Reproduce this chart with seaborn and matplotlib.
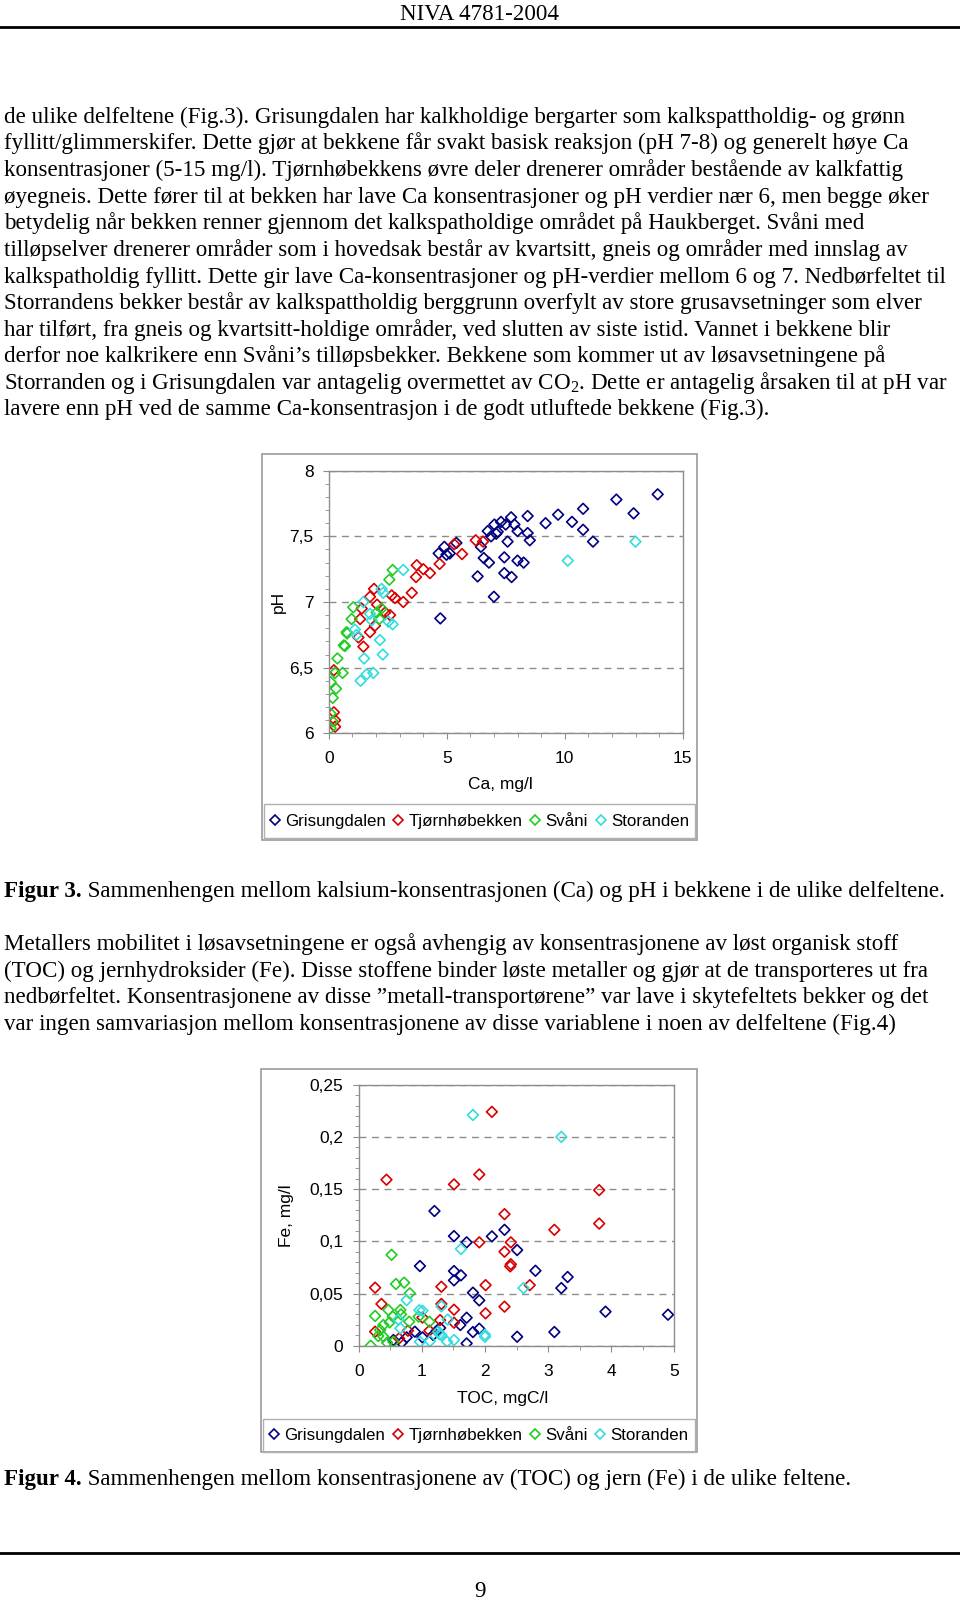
import matplotlib
matplotlib.use("Agg")
import matplotlib.pyplot as plt
from matplotlib.lines import Line2D
from matplotlib.patches import Rectangle
from matplotlib.ticker import FuncFormatter
import numpy as np
import pandas as pd
import seaborn as sns

sites = ['Grisungdalen', 'Tjørnhøbekken', 'Svåni', 'Storanden']
colors = ['#000080', '#D80000', '#22CC22', '#33DDDD']

# Figur 3: Ca (mg/l) mot pH
ca_gris = [13.94, 12.19, 12.92, 10.78, 9.72, 10.31, 9.19, 8.43, 10.78, 11.2, 7.73, 7.30, 7.02, 7.5,
           7.87, 6.74, 7.16, 7.1, 6.88, 8.0, 8.43, 8.52, 7.58, 6.45, 6.57, 6.79, 7.44, 8.0, 8.26,
           7.44, 7.75, 6.31, 7.0, 4.73, 4.66, 4.9, 4.99, 5.13, 5.41]
ph_gris = [7.82, 7.78, 7.675, 7.71, 7.665, 7.61, 7.60, 7.655, 7.55, 7.46, 7.645, 7.61, 7.59, 7.59,
           7.59, 7.54, 7.535, 7.52, 7.50, 7.54, 7.525, 7.47, 7.46, 7.42, 7.335, 7.30, 7.34, 7.315, 7.30,
           7.22, 7.19, 7.195, 7.04, 6.875, 7.37, 7.42, 7.36, 7.37, 7.45]
ca_tjorn = [5.32, 6.23, 6.54, 5.65, 4.7, 3.73, 4.01, 4.29, 3.70, 3.52, 3.16, 2.81, 2.67, 1.92, 1.75,
            1.40, 2.60, 2.39, 1.33, 1.96, 1.75, 1.26, 1.47, 0.22, 0.22, 0.27, 0.27, 2.05]
ph_tjorn = [7.44, 7.47, 7.46, 7.365, 7.29, 7.28, 7.25, 7.22, 7.19, 7.07, 7.00, 7.03, 7.05, 7.10, 7.04,
            6.95, 6.90, 6.92, 6.87, 6.82, 6.77, 6.73, 6.66, 6.48, 6.16, 6.10, 6.05, 6.98]
ca_svani = [2.71, 2.57, 1.04, 0.97, 0.76, 0.69, 0.37, 0.27, 0.59, 0.08, 0.31, 0.17, 0.08, 0.17, 0.08,
            2.24, 2.03, 2.14, 0.64, 0.78]
ph_svani = [7.244, 7.17, 6.96, 6.87, 6.77, 6.665, 6.57, 6.46, 6.46, 6.39, 6.34, 6.27, 6.15, 6.09, 6.04,
            6.95, 6.92, 6.87, 6.67, 6.76]
ca_stor = [13.0, 10.13, 3.16, 2.24, 2.31, 1.47, 1.75, 1.82, 2.53, 2.71, 1.11, 1.18, 2.17, 2.29, 1.50,
           1.89, 1.61, 1.35]
ph_stor = [7.46, 7.315, 7.244, 7.10, 7.07, 7.00, 6.91, 6.86, 6.85, 6.83, 6.79, 6.75, 6.71, 6.60, 6.57,
           6.46, 6.45, 6.40]

# Figur 4: TOC (mgC/l) mot Fe (mg/l)
toc_gris = [4.90, 3.91, 3.10, 2.51, 3.21, 3.31, 2.80, 2.51, 2.31, 2.11, 1.71, 1.51, 1.20, 0.97, 1.51,
            1.62, 1.51, 1.81, 1.91, 1.71, 1.61, 1.81, 1.91, 1.71, 0.55, 0.68, 0.89, 1.01, 1.18, 1.24,
            1.29, 0.76]
fe_gris = [0.0297, 0.0326, 0.0131, 0.0086, 0.0552, 0.0658, 0.0718, 0.0916, 0.111, 0.1047, 0.099, 0.105,
           0.129, 0.0763, 0.0715, 0.0674, 0.0626, 0.0508, 0.0434, 0.0268, 0.0198, 0.0131, 0.0163,
           0.0022, 0.0054, 0.0029, 0.0134, 0.0080, 0.0103, 0.0144, 0.017, 0.008]
toc_tjorn = [2.11, 1.91, 1.51, 0.44, 3.81, 3.81, 3.10, 2.31, 2.31, 2.41, 2.41, 2.40, 1.91, 2.71, 2.31,
             2.01, 2.01, 1.31, 1.31, 1.51, 1.51, 1.29, 1.01, 0.26, 0.36, 0.26, 0.64, 0.78, 1.12]
fe_tjorn = [0.224, 0.164, 0.1545, 0.159, 0.149, 0.117, 0.111, 0.126, 0.090, 0.099, 0.078, 0.076, 0.099,
            0.058, 0.0374, 0.058, 0.031, 0.0565, 0.040, 0.0345, 0.022, 0.0245, 0.027, 0.0556, 0.040,
            0.0134, 0.0070, 0.0144, 0.0144]
toc_svani = [0.52, 0.59, 0.72, 0.81, 0.47, 0.66, 0.54, 0.26, 0.39, 0.34, 0.39, 0.31, 0.19, 0.45, 0.55,
             0.80, 0.95, 1.12, 0.49, 0.67]
fe_svani = [0.087, 0.0591, 0.0604, 0.0502, 0.0342, 0.0342, 0.028, 0.0285, 0.0198, 0.0150, 0.0087,
            0.0093, 0.0, 0.0029, 0.0038, 0.0230, 0.0278, 0.0230, 0.0224, 0.030]
toc_stor = [1.81, 3.21, 1.62, 2.61, 2.0, 2.0, 1.31, 1.41, 1.51, 1.40, 1.31, 1.26, 1.01, 0.76, 0.63,
            0.66, 0.97, 1.13, 1.28, 0.96]
fe_stor = [0.221, 0.200, 0.0926, 0.0552, 0.0105, 0.0086, 0.0377, 0.025, 0.0054, 0.0039, 0.0102, 0.0134,
           0.0335, 0.0437, 0.025, 0.0166, 0.0038, 0.0044, 0.011, 0.034]

para1 = [
    "de ulike delfeltene (Fig.3). Grisungdalen har kalkholdige bergarter som kalkspattholdig- og grønn",
    "fyllitt/glimmerskifer. Dette gjør at bekkene får svakt basisk reaksjon (pH 7-8) og generelt høye Ca",
    "konsentrasjoner (5-15 mg/l). Tjørnhøbekkens øvre deler drenerer områder bestående av kalkfattig",
    "øyegneis. Dette fører til at bekken har lave Ca konsentrasjoner og pH verdier nær 6, men begge øker",
    "betydelig når bekken renner gjennom det kalkspatholdige området på Haukberget. Svåni med",
    "tilløpselver drenerer områder som i hovedsak består av kvartsitt, gneis og områder med innslag av",
    "kalkspatholdig fyllitt. Dette gir lave Ca-konsentrasjoner og pH-verdier mellom 6 og 7. Nedbørfeltet til",
    "Storrandens bekker består av kalkspattholdig berggrunn overfylt av store grusavsetninger som elver",
    "har tilført, fra gneis og kvartsitt-holdige områder, ved slutten av siste istid. Vannet i bekkene blir",
    "derfor noe kalkrikere enn Svåni’s tilløpsbekker. Bekkene som kommer ut av løsavsetningene på",
    "Storranden og i Grisungdalen var antagelig overmettet av CO$_2$. Dette er antagelig årsaken til at pH var",
    "lavere enn pH ved de samme Ca-konsentrasjon i de godt utluftede bekkene (Fig.3).",
]
para2 = [
    "Metallers mobilitet i løsavsetningene er også avhengig av konsentrasjonene av løst organisk stoff",
    "(TOC) og jernhydroksider (Fe). Disse stoffene binder løste metaller og gjør at de transporteres ut fra",
    "nedbørfeltet. Konsentrasjonene av disse ”metall-transportørene” var lave i skytefeltets bekker og det",
    "var ingen samvariasjon mellom konsentrasjonene av disse variablene i noen av delfeltene (Fig.4)",
]
cap3 = ("Figur 3.", " Sammenhengen mellom kalsium-konsentrasjonen (Ca) og pH i bekkene i de ulike delfeltene.")
cap4 = ("Figur 4.", " Sammenhengen mellom konsentrasjonene av (TOC) og jern (Fe) i de ulike feltene.")

plt.rcParams['font.family'] = ['Liberation Sans', 'DejaVu Sans']
plt.rcParams['mathtext.fontset'] = 'custom'
plt.rcParams['mathtext.rm'] = 'Liberation Serif'

W, H = 960, 1601
fig = plt.figure(figsize=(W / 100, H / 100), dpi=100)
SERIF = ['Liberation Serif', 'DejaVu Serif']
FS = 16.6
LIFT = 7.5  # baseline sits this many px below the visual middle of a line


def fx(x):
    return x / W


def fy(y):
    return 1 - y / H


def hline(y, lw=2):
    fig.add_artist(Line2D([0, 1], [fy(y), fy(y)], transform=fig.transFigure, color='black', lw=lw))


def comma(v, pos):
    return f"{v:g}".replace('.', ',')


def body(x, y, s, **kw):
    return fig.text(fx(x), fy(y + LIFT), s, family=SERIF, fontsize=FS, va='baseline', **kw)


def make_chart(box, plot, xs, ys, xmax, xmajor, xminor, ylim, ymajor, yminor, xlabel, ylabel,
               xlab_pos, ylab_x, legend_y):
    # ramme rundt diagrammet
    x0, y0, x1, y1 = box
    fig.add_artist(Rectangle((fx(x0), fy(y1)), fx(x1) - fx(x0), fy(y0) - fy(y1),
                             transform=fig.transFigure, fill=False, ec='#9a9a9a', lw=1.2))
    l, t, r, b = plot
    ax = fig.add_axes([fx(l), fy(b), fx(r) - fx(l), fy(t) - fy(b)])
    rows = []
    for s, x, y in zip(sites, xs, ys):
        rows.append(pd.DataFrame({'site': s, 'x': x, 'y': y}))
    df = pd.concat(rows, ignore_index=True)
    for s, c in zip(sites, colors):
        sns.scatterplot(data=df[df['site'] == s], x='x', y='y', ax=ax, marker='D', s=30,
                        color=c, facecolor='none', edgecolor=c, linewidth=1.2, legend=False)
    ax.set_xlim(0, xmax)
    ax.set_ylim(*ylim)
    ax.set_xticks(np.arange(0, xmax + 1e-9, xmajor))
    ax.set_xticks(np.arange(0, xmax + 1e-9, xminor), minor=True)
    ax.set_yticks(np.arange(ylim[0], ylim[1] + 1e-9, ymajor))
    ax.set_yticks(np.arange(ylim[0], ylim[1] + 1e-9, yminor), minor=True)
    ax.yaxis.set_major_formatter(FuncFormatter(comma))
    ax.xaxis.set_major_formatter(FuncFormatter(comma))
    ax.yaxis.grid(True, which='major', ls=(0, (5, 4)), color='#8c8c8c', lw=1.0)
    ax.set_axisbelow(True)
    for sp in ax.spines.values():
        sp.set_color('#8c8c8c')
        sp.set_linewidth(1.0)
    ax.tick_params(which='both', direction='out', color='#8c8c8c', labelsize=12.5)
    ax.tick_params(which='major', length=4)
    ax.tick_params(which='minor', length=3)
    ax.tick_params(axis='y', pad=7)
    ax.tick_params(axis='x', pad=9)
    ax.set_xlabel(xlabel, fontsize=12.5)
    ax.set_ylabel(ylabel, fontsize=12.5)
    ax.xaxis.set_label_coords(*xlab_pos)
    ax.yaxis.set_label_coords(ylab_x, 0.5)
    # forklaring
    fig.add_artist(Rectangle((fx(x0 + 2), fy(legend_y[1])), fx(x1 - 2) - fx(x0 + 2),
                             fy(legend_y[0]) - fy(legend_y[1]),
                             transform=fig.transFigure, fill=False, ec='#b0b0b0', lw=1.0))
    handles = [Line2D([], [], ls='', marker='D', ms=5, mfc='none', mec=c, mew=1.2, label=s)
               for s, c in zip(sites, colors)]
    fig.legend(handles=handles, loc='center', ncol=4, frameon=False, fontsize=12.2,
               bbox_to_anchor=(fx((x0 + x1) / 2 - 1), fy(sum(legend_y) / 2)),
               handlelength=0.8, handletextpad=0.2, columnspacing=0.35, borderpad=0)
    return ax


# topptekst
fig.text(0.5, fy(13 + LIFT), "NIVA 4781-2004", family=SERIF, fontsize=FS, ha='center', va='baseline')
hline(27)

for i, line in enumerate(para1):
    body(4, 115.4 + i * 26.6, line)

make_chart((262, 454, 697, 840), (328.7, 470.7, 682.7, 733.3),
           [ca_gris, ca_tjorn, ca_svani, ca_stor], [ph_gris, ph_tjorn, ph_svani, ph_stor],
           15, 5, 1, (6, 8), 0.5, 0.1, "Ca, mg/l", "pH", (0.484, -0.166), -0.121, (804, 838))

renderer = fig.canvas.get_renderer()


def caption(y, parts):
    t = body(4, y, parts[0], weight='bold')
    bb = t.get_window_extent(renderer)
    fig.text(bb.x1 / W, fy(y + LIFT), parts[1], family=SERIF, fontsize=FS, va='baseline')


caption(889.6, cap3)

for i, line in enumerate(para2):
    body(4, 942.7 + i * 26.5, line)

make_chart((261, 1069, 697, 1452), (358.7, 1084.7, 674.3, 1345.7),
           [toc_gris, toc_tjorn, toc_svani, toc_stor], [fe_gris, fe_tjorn, fe_svani, fe_stor],
           5, 1, 0.5, (0, 0.25), 0.05, 0.01, "TOC, mgC/l", "Fe, mg/l", (0.455, -0.174), -0.206,
           (1419, 1452))

caption(1477.8, cap4)

hline(1552.5)
fig.text(0.5, fy(1589 + LIFT), "9", family=SERIF, fontsize=FS, ha='center', va='baseline')

fig.savefig("out.png", dpi=100)
